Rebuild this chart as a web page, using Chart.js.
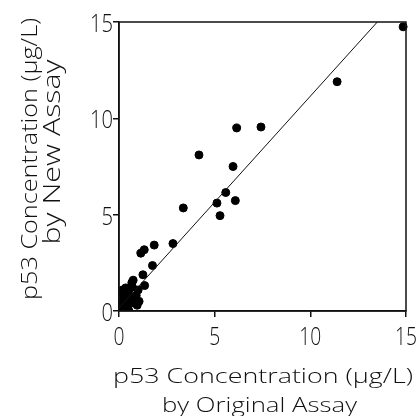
<!DOCTYPE html>
<html lang="en">
<head>
  <meta charset="UTF-8">
  <title>p53 Concentration: New vs Original Assay</title>
  <script src="https://cdn.jsdelivr.net/npm/chart.js"></script>
  <style>
    body {
      margin: 0;
      padding: 0;
      background: #fff;
    }
    #wrap {
      width: 419px;
      height: 416px;
    }
  </style>
</head>
<body>
  <div id="wrap">
    <canvas id="p53Chart" width="419" height="416"></canvas>
  </div>

  <script>
    // p53 (µg/L), original assay (x) vs new assay (y)
    const originalAssay = [14.85, 11.4, 6.15, 7.42, 4.18, 5.96, 5.58, 5.12, 6.08, 5.28,
      3.36, 2.82, 1.84, 1.32, 1.14, 1.75, 1.25, 1.34, 0.67, 0.74,
      0.57, 1.0, 0.83, 0.65, 0.39, 0.22, 0.15, 0.12, 0.3, 0.46,
      0.12, 1.05, 0.2, 0.9, 0.5, 0.3, 0.5, 0.7, 0.4, 0.6,
      0.25, 0.8, 0.35, 0.15, 0.95];
    const newAssay = [14.75, 11.9, 9.5, 9.55, 8.1, 7.5, 6.15, 5.6, 5.73, 4.95,
      5.35, 3.5, 3.42, 3.18, 3.0, 2.36, 1.88, 1.32, 1.47, 1.6,
      1.18, 1.09, 0.4, 0.66, 0.83, 0.57, 0.95, 0.3, 0.2, 0.31,
      0.1, 0.5, 1.1, 0.8, 0.05, 0.5, 0.9, 1.25, 0.4, 0.45,
      0.75, 0.7, 1.2, 0.15, 0.3];

    // fitted line
    const fitX = [0, 13.5];
    const fitY = [0.15, 15];

    const xTicks = [0, 5, 10, 15];
    const yTicks = [0, 5, 10, 15];

    const xTitle = ['p53 Concentration (µg/L)', 'by Original Assay'];
    const yTitle = ['p53 Concentration (µg/L)', 'by New Assay'];

    const FONT = '300 {size}px "Open Sans", "DejaVu Sans", sans-serif';
    const CAP = 0.714;
    const INK = '#111';

    function setFont(ctx, cap) {
      ctx.font = FONT.replace('{size}', (cap / CAP).toFixed(2));
    }

    // draw text squeezed to a given width, like the narrow plotter font
    function fitText(ctx, text, x, y, cap, width, rotated) {
      ctx.save();
      setFont(ctx, cap);
      const w = ctx.measureText(text).width;
      ctx.translate(x, y);
      if (rotated) ctx.rotate(-Math.PI / 2);
      ctx.scale(width / w, 1);
      ctx.textAlign = 'center';
      ctx.textBaseline = 'alphabetic';
      ctx.fillStyle = INK;
      ctx.fillText(text, 0, 0);
      ctx.restore();
    }

    function squeezed(ctx, text, x, y, cap, digitW, align) {
      ctx.save();
      setFont(ctx, cap);
      const sx = digitW / ctx.measureText('0').width;
      ctx.translate(x, y);
      ctx.scale(sx, 1);
      ctx.textAlign = align;
      ctx.textBaseline = 'alphabetic';
      ctx.fillStyle = INK;
      ctx.fillText(text, 0, 0);
      ctx.restore();
    }

    const decorations = {
      id: 'decorations',
      afterDraw(chart) {
        const { ctx, chartArea: a, scales } = chart;

        // box round the plot
        ctx.save();
        ctx.strokeStyle = INK;
        ctx.lineWidth = 1.5;
        ctx.strokeRect(a.left, a.top, a.right - a.left, a.bottom - a.top);
        ctx.restore();

        // tick labels
        xTicks.forEach(v => {
          squeezed(ctx, String(v), scales.x.getPixelForValue(v), 345, 18, 11, 'center');
        });
        yTicks.forEach(v => {
          squeezed(ctx, String(v), 113, scales.y.getPixelForValue(v) + 10, 18, 11.5, 'right');
        });

        // axis titles
        fitText(ctx, xTitle[0], 263, 383, 15, 300, false);
        fitText(ctx, xTitle[1], 259.5, 411.5, 15, 195, false);
        fitText(ctx, yTitle[0], 37, 159, 16, 282, true);
        fitText(ctx, yTitle[1], 60, 152, 17, 185, true);
      }
    };

    const points = originalAssay.map((x, i) => ({ x: x, y: newAssay[i] }));
    const fitLine = fitX.map((x, i) => ({ x: x, y: fitY[i] }));

    const axis = {
      type: 'linear',
      min: 0,
      max: 15,
      ticks: { stepSize: 5, display: false },
      grid: {
        drawOnChartArea: false,
        drawTicks: true,
        tickLength: 6,
        color: INK,
        lineWidth: 1.5
      },
      border: { color: INK, width: 1.5 }
    };

    new Chart(document.getElementById('p53Chart'), {
      type: 'scatter',
      data: {
        datasets: [
          {
            type: 'line',
            data: fitLine,
            borderColor: INK,
            borderWidth: 1,
            pointRadius: 0,
            fill: false
          },
          {
            data: points,
            backgroundColor: '#000',
            borderColor: '#000',
            pointRadius: 4,
            pointHoverRadius: 4,
            clip: { left: 0, top: 5, right: 5, bottom: 0 }
          }
        ]
      },
      options: {
        responsive: false,
        animation: false,
        layout: { padding: { left: 113, right: 13, top: 22, bottom: 99 } },
        scales: {
          x: axis,
          y: Object.assign({}, axis)
        },
        plugins: {
          legend: { display: false },
          tooltip: { enabled: false }
        }
      },
      plugins: [decorations]
    });
  </script>
</body>
</html>
